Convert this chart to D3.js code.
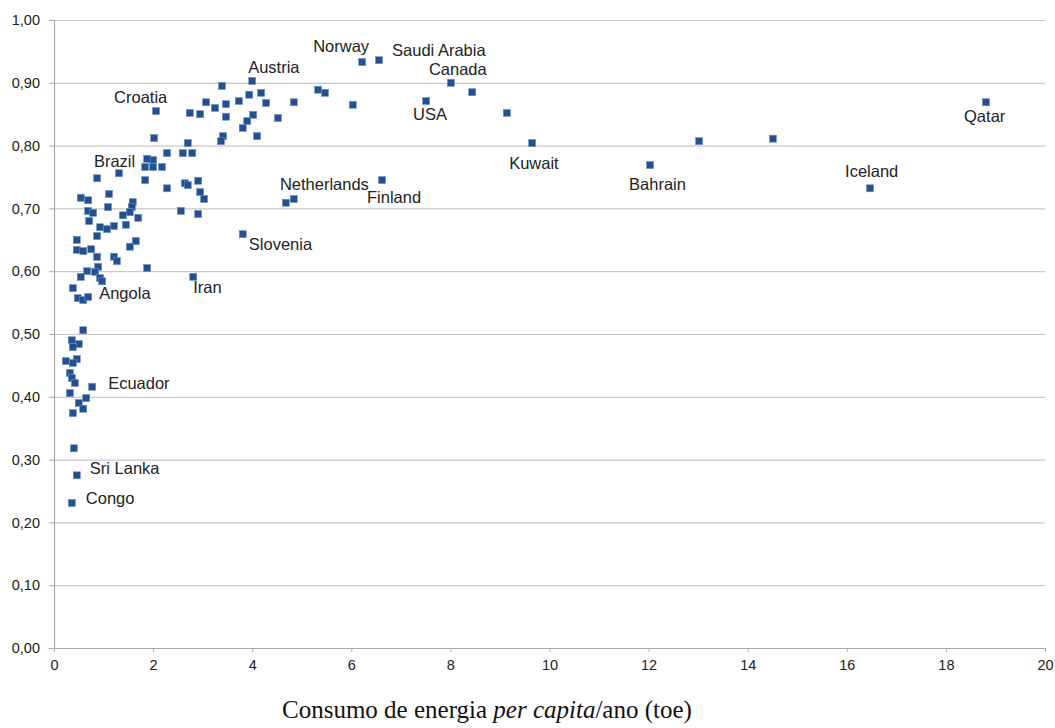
<!DOCTYPE html>
<html>
<head>
<meta charset="utf-8">
<script src="https://cdn.jsdelivr.net/npm/d3@7"></script>
<style>
  html, body { margin: 0; padding: 0; background: #fff; }
  svg { display: block; }
</style>
</head>
<body>
<svg id="chart" width="1055" height="728"></svg>
<script>
// energy per capita (toe) and HDI, unlabelled countries
const energy = [9.14, 13.02, 14.51, 8.44, 6.03, 5.33, 5.47, 4.84, 4.84, 4.52, 4.28, 4.18, 3.94, 4.02, 3.90, 3.81, 4.10, 3.73, 3.47, 3.47,
  3.39, 3.41, 3.37, 3.25, 3.07, 2.95, 2.74, 2.70, 2.60, 2.79, 2.28, 2.02, 2.18, 2.00, 1.88, 2.00, 1.84, 1.84, 2.28, 2.64,
  2.70, 2.91, 2.95, 3.03, 2.56, 2.91, 1.59, 1.70, 1.57, 1.88, 0.87, 1.11, 0.54, 0.69, 1.09, 1.53, 0.69, 0.79, 1.39, 0.71,
  0.93, 1.07, 1.21, 1.45, 0.87, 0.46, 1.65, 1.53, 0.46, 0.59, 0.75, 0.87, 1.21, 1.27, 0.89, 0.67, 0.83, 0.54, 0.93, 0.97,
  0.38, 0.48, 0.59, 0.59, 0.36, 0.50, 0.38, 0.24, 0.46, 0.38, 0.32, 0.36, 0.42, 0.32, 0.65, 0.50, 0.59, 0.38, 0.40];
const hdi = [0.852, 0.807, 0.811, 0.885, 0.865, 0.889, 0.884, 0.869, 0.715, 0.844, 0.868, 0.884, 0.881, 0.849, 0.839, 0.828, 0.815, 0.871, 0.866, 0.846,
  0.895, 0.815, 0.807, 0.860, 0.869, 0.850, 0.852, 0.804, 0.788, 0.788, 0.788, 0.812, 0.766, 0.777, 0.779, 0.766, 0.766, 0.745, 0.732, 0.740,
  0.737, 0.744, 0.726, 0.715, 0.696, 0.691, 0.710, 0.685, 0.702, 0.605, 0.748, 0.723, 0.717, 0.713, 0.702, 0.694, 0.696, 0.693, 0.689, 0.680,
  0.670, 0.667, 0.672, 0.674, 0.656, 0.650, 0.648, 0.639, 0.634, 0.632, 0.635, 0.623, 0.623, 0.616, 0.607, 0.600, 0.599, 0.591, 0.589, 0.584,
  0.573, 0.557, 0.554, 0.506, 0.490, 0.484, 0.479, 0.457, 0.460, 0.454, 0.438, 0.430, 0.422, 0.406, 0.398, 0.390, 0.381, 0.374, 0.318];

// labelled countries
const countries = ['Norway', 'Saudi Arabia', 'Canada', 'Austria', 'USA', 'Netherlands', 'Finland', 'Croatia', 'Brazil', 'Angola',
  'Iran', 'Slovenia', 'Ecuador', 'Sri Lanka', 'Congo', 'Kuwait', 'Bahrain', 'Iceland', 'Qatar'];
const countryEnergy = [6.22, 6.56, 8.01, 4.00, 7.51, 4.68, 6.62, 2.06, 1.31, 0.69, 2.81, 3.81, 0.77, 0.46, 0.36, 9.65, 12.03, 16.47, 18.81];
const countryHdi = [0.933, 0.936, 0.900, 0.903, 0.871, 0.709, 0.745, 0.855, 0.756, 0.559, 0.591, 0.659, 0.416, 0.275, 0.231, 0.804, 0.769, 0.732, 0.869];

const xTicks = [0, 2, 4, 6, 8, 10, 12, 14, 16, 18, 20];
const yTicks = [0, 0.1, 0.2, 0.3, 0.4, 0.5, 0.6, 0.7, 0.8, 0.9, 1.0];

// label placement relative to the marker (pixels)
const labelOffset = {
  'Norway': [-49, -10], 'Saudi Arabia': [13, -4], 'Canada': [-22, -8], 'Austria': [-4, -8],
  'USA': [-13, 19], 'Netherlands': [-6, -13], 'Finland': [-15, 23], 'Croatia': [-42, -8],
  'Brazil': [-25, -6], 'Angola': [11, 2], 'Iran': [0, 16], 'Slovenia': [6, 16],
  'Ecuador': [16, 2], 'Sri Lanka': [13, -1], 'Congo': [14, 1], 'Kuwait': [-23, 26],
  'Bahrain': [-21, 25], 'Iceland': [-25, -11], 'Qatar': [-22, 20]
};

const width = 1055, height = 728;
const margin = { top: 20, right: 10, bottom: 80, left: 54 };
const innerWidth = width - margin.left - margin.right;
const innerHeight = height - margin.top - margin.bottom;

const svg = d3.select('#chart');
const g = svg.append('g').attr('transform', `translate(${margin.left},${margin.top})`);

const x = d3.scaleLinear().domain([0, 20]).range([0, innerWidth]);
const y = d3.scaleLinear().domain([0, 1]).range([innerHeight, 0]);
const fmt = v => d3.format('.2f')(v).replace('.', ',');
const sans = 'Arial, "Liberation Sans", Helvetica, sans-serif';

// Grid lines
g.append('g')
  .call(d3.axisLeft(y).tickValues(yTicks).tickSize(-innerWidth).tickFormat(''))
  .call(s => s.select('.domain').remove())
  .selectAll('line').attr('stroke', '#c9c9c9').attr('stroke-width', 1.2);

// Y axis
const yAxis = g.append('g')
  .call(d3.axisLeft(y).tickValues(yTicks).tickSize(5).tickPadding(9).tickFormat(fmt));
yAxis.select('.domain').attr('stroke', '#aaa').attr('stroke-width', 1.2);
yAxis.selectAll('line').attr('stroke', '#aaa');
yAxis.selectAll('text').attr('font-family', sans).attr('font-size', 14.5).attr('fill', '#222');

// X axis
const xAxis = g.append('g')
  .attr('transform', `translate(0,${innerHeight})`)
  .call(d3.axisBottom(x).tickValues(xTicks).tickSize(4).tickPadding(8).tickSizeOuter(0));
xAxis.select('.domain').attr('stroke', '#aaa').attr('stroke-width', 1.2);
xAxis.selectAll('line').attr('stroke', '#aaa');
xAxis.selectAll('text').attr('font-family', sans).attr('font-size', 14.5).attr('fill', '#222');

// Points
const points = energy.map((e, i) => ({ x: e, y: hdi[i] }))
  .concat(countries.map((c, i) => ({ x: countryEnergy[i], y: countryHdi[i], name: c })));

const size = 7;
g.selectAll('.dot')
  .data(points)
  .enter().append('rect')
  .attr('class', 'dot')
  .attr('x', d => x(d.x) - size / 2)
  .attr('y', d => y(d.y) - size / 2)
  .attr('width', size)
  .attr('height', size)
  .attr('fill', '#23508e')
  .attr('stroke', '#6d8fbf')
  .attr('stroke-width', 0.6);

// Country labels
g.selectAll('.label')
  .data(points.filter(d => d.name))
  .enter().append('text')
  .attr('class', 'label')
  .attr('x', d => x(d.x) + labelOffset[d.name][0])
  .attr('y', d => y(d.y) + labelOffset[d.name][1])
  .attr('font-family', sans)
  .attr('font-size', 16.5)
  .attr('fill', '#222')
  .text(d => d.name);

// X axis title
const title = svg.append('text')
  .attr('x', 282)
  .attr('y', 718)
  .attr('font-family', '"Times New Roman", "Liberation Serif", serif')
  .attr('font-size', 25)
  .attr('fill', '#111');
title.append('tspan').text('Consumo de energia ');
title.append('tspan').attr('font-style', 'italic').text('per capita');
title.append('tspan').text('/ano (toe)');
</script>
</body>
</html>
